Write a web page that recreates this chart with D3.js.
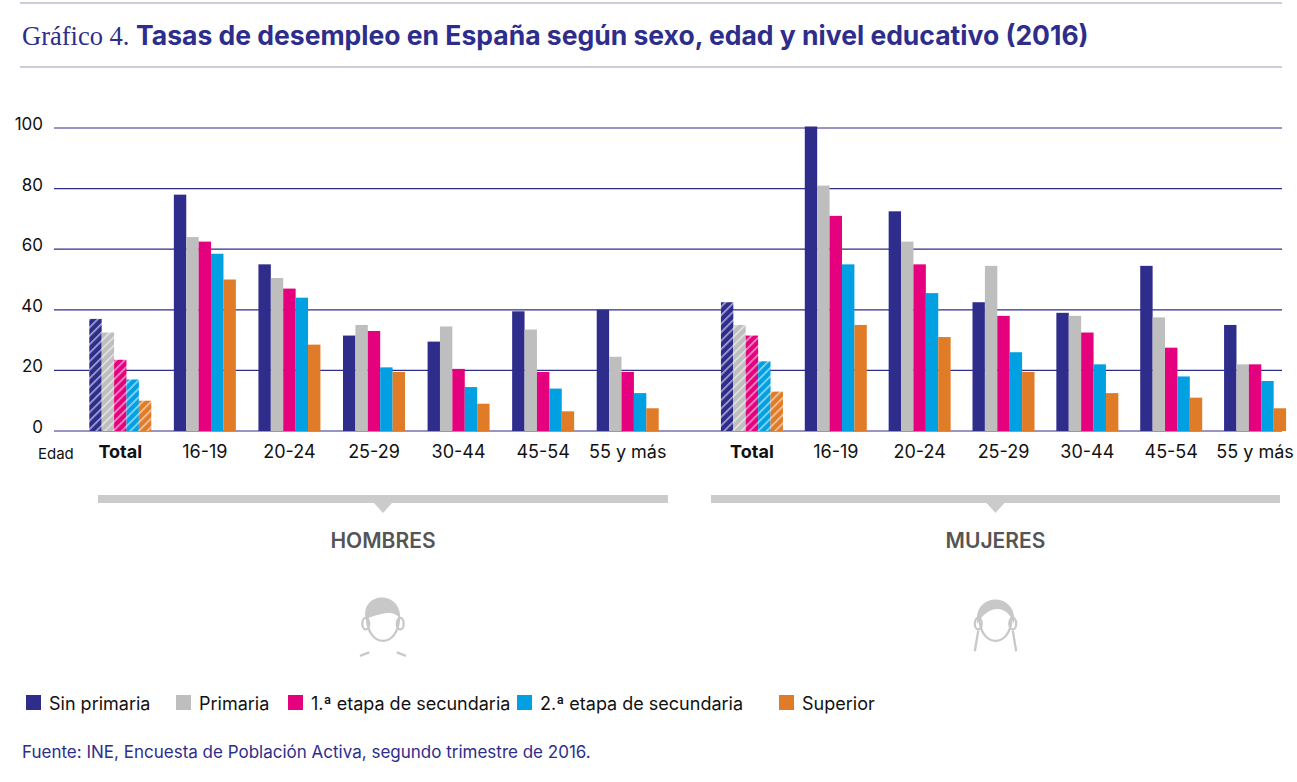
<!DOCTYPE html>
<html><head><meta charset="utf-8">
<script src="https://cdn.jsdelivr.net/npm/d3@7"></script>
<style>body{margin:0;background:#fff}svg{display:block}</style>
</head><body><svg width="1297" height="782"></svg>
<script>
const groups = ["Total", "16-19", "20-24", "25-29", "30-44", "45-54", "55 y más"];
const series = ["Sin primaria", "Primaria", "1.ª etapa de secundaria", "2.ª etapa de secundaria", "Superior"];
const colors = ["#2e2d8c", "#bebebf", "#e5007d", "#00a0e2", "#e07b27"];
const hombres = [
  [37, 32.5, 23.5, 17, 10],
  [78, 64, 62.5, 58.5, 50],
  [55, 50.5, 47, 44, 28.5],
  [31.5, 35, 33, 21, 19.5],
  [29.5, 34.5, 20.5, 14.5, 9],
  [39.5, 33.5, 19.5, 14, 6.5],
  [40, 24.5, 19.5, 12.5, 7.5]
];
const mujeres = [
  [42.5, 35, 31.5, 23, 13],
  [100.5, 81, 71, 55, 35],
  [72.5, 62.5, 55, 45.5, 31],
  [42.5, 54.5, 38, 26, 19.5],
  [39, 38, 32.5, 22, 12.5],
  [54.5, 37.5, 27.5, 18, 11],
  [35, 22, 22, 16.5, 7.5]
];
const yTicks = [0, 20, 40, 60, 80, 100];

const svg = d3.select("svg");
const navy = "#2e2d8c";
const font = "Inter, 'Noto Sans', sans-serif";

// header
svg.append("line").attr("x1", 20).attr("x2", 1282).attr("y1", 3).attr("y2", 3).attr("stroke", "#9a9ac4");
svg.append("line").attr("x1", 20).attr("x2", 1282).attr("y1", 67).attr("y2", 67).attr("stroke", "#9a9ac4");
const title = svg.append("text").attr("x", 22).attr("y", 45).attr("fill", navy).style("font-size", "26.5px");
title.append("tspan").style("font-family", "'Liberation Serif', serif").text("Gráfico 4. ");
title.append("tspan").style("font-family", font).style("font-weight", "700").text("Tasas de desempleo en España según sexo, edad y nivel educativo (2016)");

// hatch patterns
const defs = svg.append("defs");
colors.forEach((c, i) => {
  const p = defs.append("pattern").attr("id", "h" + i).attr("patternUnits", "userSpaceOnUse")
    .attr("width", 6).attr("height", 6).attr("patternTransform", "rotate(45)");
  p.append("rect").attr("width", 6).attr("height", 6).attr("fill", c);
  p.append("rect").attr("width", 1.6).attr("height", 6).attr("fill", "#fff").attr("opacity", 0.6);
});

const y = d3.scaleLinear().domain([0, 100]).range([431, 128]);

// grid
svg.append("g").selectAll("line").data(yTicks).join("line")
  .attr("x1", 54).attr("x2", 1282).attr("y1", d => y(d)).attr("y2", d => y(d))
  .attr("stroke", navy).attr("stroke-width", 1.2);
svg.append("g").selectAll("text").data(yTicks).join("text")
  .attr("x", 43).attr("y", d => y(d) + 2).attr("text-anchor", "end")
  .style("font-family", font).style("font-size", "17px").attr("fill", "#111").text(d => d);

svg.append("text").attr("x", 38).attr("y", 459).style("font-family", font).style("font-size", "15px").attr("fill", "#111").text("Edad");

function panel(data, x0, x1, bx0, bx1, label, female) {
  const x = d3.scaleBand().domain(groups).range([x0, x1]);
  const xs = d3.scaleBand().domain(d3.range(5)).range([0, 62]);
  const g = svg.append("g");
  groups.forEach((grp, gi) => {
    const cx = x(grp) + x.bandwidth() / 2 - 31;
    g.selectAll(null).data(data[gi]).join("rect")
      .attr("x", (d, i) => cx + xs(i)).attr("width", xs.bandwidth())
      .attr("y", d => y(d)).attr("height", d => y(0) - y(d))
      .attr("fill", (d, i) => gi === 0 ? `url(#h${i})` : colors[i]);
  });
  g.append("g").attr("transform", "translate(0,433)")
    .call(d3.axisBottom(x).tickSize(0).tickPadding(12))
    .call(a => a.select(".domain").remove())
    .selectAll("text").style("font-family", font).style("font-size", "18px").attr("fill", "#111")
    .style("font-weight", d => d === "Total" ? "700" : "400");
  const mid = (bx0 + bx1) / 2;
  g.append("rect").attr("x", bx0).attr("y", 495).attr("width", bx1 - bx0).attr("height", 8).attr("fill", "#cbcbcc");
  g.append("path").attr("d", `M${mid - 9},503L${mid + 9},503L${mid},513Z`).attr("fill", "#cbcbcc");
  g.append("text").attr("x", mid).attr("y", 548).attr("text-anchor", "middle")
    .style("font-family", font).style("font-size", "21px").style("font-weight", "600").attr("fill", "#555").text(label);
  // icon
  const ic = g.append("g").attr("transform", `translate(${mid},626) scale(1.15)`).attr("fill", "none").attr("stroke", "#c8c8c8").attr("stroke-width", 2);
  ic.append("path").attr("d", "M-14,-8 C-14,20 14,20 14,-8");
  ic.append("ellipse").attr("cx", -15).attr("cy", -2).attr("rx", 3).attr("ry", 5);
  ic.append("ellipse").attr("cx", 15).attr("cy", -2).attr("rx", 3).attr("ry", 5);
  if (female) {
    ic.append("path").attr("d", "M-16,-2 C-20,-30 20,-30 16,-2 C12,-16 -4,-22 -16,-2Z").attr("fill", "#c8c8c8").attr("stroke", "none");
    ic.append("path").attr("d", "M-15,4 L-18,22 M15,4 L18,22");
  } else {
    ic.append("path").attr("d", "M-15,-6 C-20,-30 16,-32 15,-6 C10,-14 0,-12 -15,-6Z").attr("fill", "#c8c8c8").attr("stroke", "none");
    ic.append("path").attr("d", "M-20,26 L-12,23 M20,26 L12,23");
  }
}
panel(hombres, 78, 670, 98, 668, "HOMBRES", false);
panel(mujeres, 710, 1297, 711, 1280, "MUJERES", true);

// legend
const lg = svg.append("g").attr("transform", "translate(26,695)");
const offs = [0, 150, 262, 491, 753];
series.forEach((s, i) => {
  lg.append("rect").attr("x", offs[i]).attr("y", 0).attr("width", 15).attr("height", 15).attr("fill", colors[i]);
  lg.append("text").attr("x", offs[i] + 23).attr("y", 15).style("font-family", font).style("font-size", "18px").attr("fill", "#111").text(s);
});
svg.append("text").attr("x", 22).attr("y", 758).style("font-family", font).style("font-size", "17px").attr("fill", navy)
  .text("Fuente: INE, Encuesta de Población Activa, segundo trimestre de 2016.");
</script></body></html>
